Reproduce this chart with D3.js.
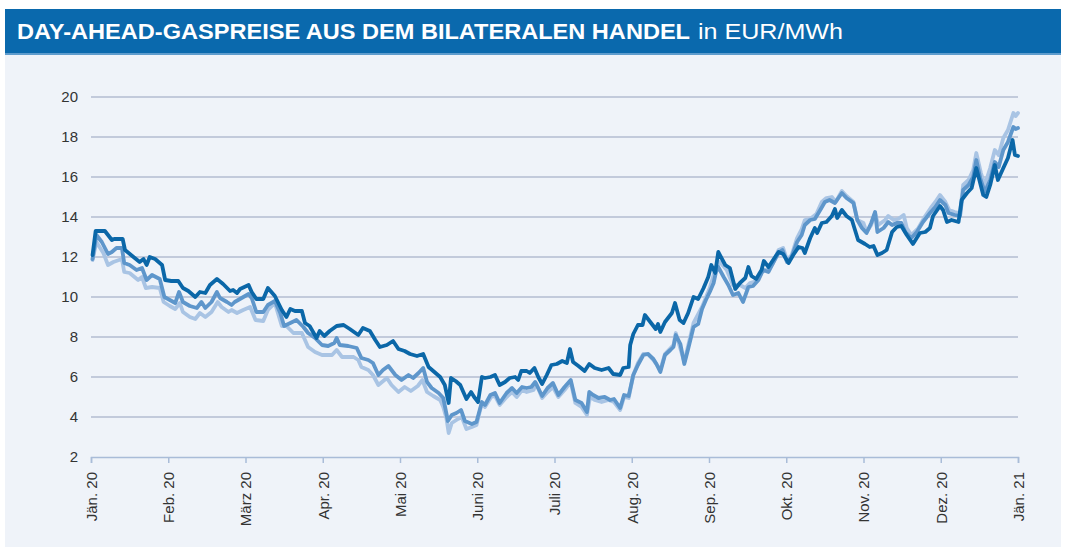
<!DOCTYPE html>
<html>
<head>
<meta charset="utf-8">
<script src="https://cdn.jsdelivr.net/npm/d3@7"></script>
<style>
  body { margin: 0; background: #fff; }
  svg { display: block; font-family: "Liberation Sans", Arial, sans-serif; }
</style>
</head>
<body>
<script>
// Monatsbeschriftungen (gleich breite Monate, 0 = Jän. 20 ... 12 = Jän. 21)
var monate = ["Jän. 20", "Feb. 20", "März 20", "Apr. 20", "Mai 20", "Juni 20", "Juli 20",
  "Aug. 20", "Sep. 20", "Okt. 20", "Nov. 20", "Dez. 20", "Jän. 21"];
var yTicks = [2, 4, 6, 8, 10, 12, 14, 16, 18, 20];

// [Zeit in Monaten seit 1.1.2020, Preis EUR/MWh]
var serieDunkel = [
  [0.02,12.1],[0.06,13.3],[0.18,13.3],[0.27,12.85],[0.30,12.9],[0.41,12.9],[0.44,12.35],[0.55,12.0],
  [0.63,11.75],[0.68,11.9],[0.72,11.6],[0.76,12.0],[0.83,11.9],[0.92,11.6],[0.96,10.85],[1.04,10.8],
  [1.13,10.8],[1.19,10.45],[1.26,10.3],[1.35,10.0],[1.41,10.25],[1.48,10.2],[1.54,10.6],[1.63,10.9],
  [1.71,10.65],[1.80,10.3],[1.84,10.35],[1.89,10.2],[1.93,10.4],[2.04,10.6],[2.08,10.25],[2.14,9.9],
  [2.23,9.9],[2.29,10.45],[2.38,10.05],[2.47,9.35],[2.53,9.0],[2.58,9.4],[2.64,9.3],[2.73,9.3],
  [2.77,8.7],[2.83,8.55],[2.92,7.95],[2.96,8.3],[3.02,8.05],[3.09,8.3],[3.18,8.55],[3.27,8.6],
  [3.35,8.4],[3.46,8.1],[3.52,8.45],[3.61,8.3],[3.68,7.85],[3.74,7.5],[3.83,7.6],[3.91,7.8],
  [3.98,7.4],[4.06,7.3],[4.13,7.15],[4.22,7.05],[4.30,7.15],[4.37,6.5],[4.43,6.3],[4.52,6.0],
  [4.58,5.6],[4.63,4.7],[4.66,5.95],[4.72,5.8],[4.78,5.6],[4.82,5.25],[4.86,4.9],[4.92,5.25],
  [4.96,5.0],[5.01,4.75],[5.06,6.0],[5.10,5.95],[5.17,6.0],[5.23,6.1],[5.29,5.6],[5.36,5.75],
  [5.42,5.95],[5.49,6.0],[5.53,5.85],[5.57,6.3],[5.64,6.3],[5.68,6.2],[5.74,6.45],[5.79,6.0],
  [5.84,5.65],[5.90,6.1],[5.96,6.6],[6.03,6.65],[6.10,6.8],[6.16,6.7],[6.20,7.4],[6.24,6.75],
  [6.31,6.55],[6.39,6.3],[6.45,6.65],[6.52,6.45],[6.61,6.35],[6.70,6.45],[6.76,6.15],[6.85,6.1],
  [6.89,6.45],[6.96,6.5],[6.98,7.6],[7.02,8.15],[7.08,8.6],[7.14,8.6],[7.17,9.1],[7.24,8.75],
  [7.31,8.4],[7.34,8.65],[7.37,8.25],[7.43,8.75],[7.52,9.2],[7.56,9.7],[7.62,8.85],[7.67,8.7],
  [7.73,9.2],[7.80,10.0],[7.86,9.9],[7.93,10.45],[7.99,11.0],[8.03,11.6],[8.08,11.2],[8.12,12.25],
  [8.21,11.6],[8.27,11.45],[8.34,10.4],[8.40,10.7],[8.47,10.95],[8.51,11.5],[8.55,11.05],[8.61,10.9],
  [8.68,11.35],[8.71,11.8],[8.77,11.5],[8.83,11.85],[8.90,12.25],[8.96,12.15],[9.03,11.7],[9.09,12.1],
  [9.16,12.5],[9.21,12.45],[9.24,12.2],[9.31,12.95],[9.37,13.45],[9.40,13.2],[9.46,13.7],[9.52,13.75],
  [9.59,14.05],[9.63,14.4],[9.66,13.95],[9.72,14.35],[9.78,14.05],[9.85,13.85],[9.89,13.35],[9.93,12.85],
  [10.02,12.65],[10.08,12.5],[10.13,12.55],[10.18,12.1],[10.24,12.2],[10.30,12.35],[10.37,13.25],[10.43,13.5],
  [10.49,13.55],[10.56,13.1],[10.64,12.65],[10.73,13.2],[10.80,13.25],[10.86,13.45],[10.90,14.05],[10.99,14.55],
  [11.03,14.35],[11.08,13.75],[11.14,13.85],[11.23,13.75],[11.27,14.85],[11.34,15.2],[11.40,15.45],[11.46,16.45],
  [11.51,15.7],[11.55,15.1],[11.59,15.0],[11.64,15.6],[11.70,16.6],[11.74,15.85],[11.81,16.45],[11.87,16.95],
  [11.93,17.85],[11.96,17.1],[12.00,17.05]
];

var serieMittel = [
  [0.02,11.9],[0.07,13.1],[0.14,12.75],[0.22,12.15],[0.27,12.25],[0.33,12.45],[0.40,12.45],[0.43,11.7],
  [0.50,11.6],[0.59,11.35],[0.66,11.45],[0.72,10.85],[0.79,11.1],[0.89,10.9],[0.95,10.0],[1.02,9.85],
  [1.09,9.7],[1.14,10.25],[1.19,9.75],[1.28,9.55],[1.37,9.45],[1.43,9.75],[1.48,9.45],[1.56,9.75],
  [1.63,10.25],[1.67,9.95],[1.76,9.75],[1.82,9.6],[1.86,9.75],[1.95,9.95],[2.04,10.15],[2.08,9.95],
  [2.14,9.25],[2.23,9.25],[2.29,9.6],[2.38,9.8],[2.45,9.2],[2.50,8.55],[2.58,8.7],[2.66,8.85],
  [2.75,8.5],[2.81,8.2],[2.90,7.95],[2.99,7.6],[3.07,7.55],[3.15,7.7],[3.18,7.95],[3.22,7.6],
  [3.33,7.55],[3.44,7.45],[3.50,6.95],[3.59,6.85],[3.65,6.7],[3.72,6.1],[3.78,6.35],[3.85,6.55],
  [3.94,6.1],[4.02,5.85],[4.11,6.1],[4.17,5.95],[4.24,6.2],[4.30,6.45],[4.35,5.75],[4.41,5.45],
  [4.50,5.2],[4.56,4.95],[4.62,3.8],[4.67,4.1],[4.73,4.2],[4.79,4.35],[4.84,3.8],[4.93,3.65],
  [4.99,3.75],[5.06,4.75],[5.10,4.6],[5.17,5.1],[5.23,5.2],[5.29,4.7],[5.38,5.2],[5.45,5.45],
  [5.51,5.2],[5.58,5.5],[5.64,5.45],[5.70,5.5],[5.75,5.75],[5.84,5.05],[5.91,5.45],[5.98,5.7],
  [6.05,5.1],[6.13,5.5],[6.21,5.85],[6.27,4.85],[6.35,4.7],[6.42,4.25],[6.45,5.25],[6.50,5.1],
  [6.57,4.95],[6.65,5.0],[6.72,4.85],[6.77,4.9],[6.85,4.45],[6.90,5.1],[6.96,5.05],[7.02,6.1],
  [7.08,6.6],[7.15,7.1],[7.21,7.15],[7.28,6.9],[7.32,6.65],[7.37,6.25],[7.43,7.1],[7.50,7.35],
  [7.54,7.5],[7.57,8.1],[7.63,7.65],[7.68,6.65],[7.73,7.4],[7.80,8.5],[7.86,8.65],[7.91,9.4],
  [7.96,9.85],[8.01,10.25],[8.06,10.7],[8.09,11.25],[8.12,11.5],[8.19,11.0],[8.25,10.6],[8.31,10.1],
  [8.38,10.2],[8.44,9.75],[8.51,10.5],[8.57,10.55],[8.64,10.85],[8.70,11.35],[8.77,11.25],[8.83,11.7],
  [8.90,12.2],[8.95,12.35],[9.01,11.75],[9.07,12.0],[9.14,12.75],[9.20,13.1],[9.24,13.6],[9.31,13.85],
  [9.37,13.9],[9.44,14.35],[9.50,14.75],[9.56,14.85],[9.63,14.7],[9.72,15.2],[9.78,14.95],[9.87,14.7],
  [9.92,13.85],[9.98,13.45],[10.04,13.2],[10.10,13.7],[10.15,14.25],[10.18,13.25],[10.26,13.45],[10.32,13.75],
  [10.37,13.6],[10.43,13.7],[10.49,13.7],[10.54,13.25],[10.62,12.95],[10.69,13.25],[10.77,13.75],[10.86,14.2],
  [10.93,14.5],[10.99,14.85],[11.06,14.6],[11.10,14.2],[11.18,14.1],[11.25,14.05],[11.29,15.35],[11.36,15.6],
  [11.42,16.0],[11.46,16.85],[11.51,15.95],[11.57,15.25],[11.64,15.85],[11.70,16.75],[11.75,16.5],[11.81,17.35],
  [11.87,17.75],[11.94,18.5],[11.97,18.4],[12.00,18.45]
];

var serieHell = [
  [0.02,11.85],[0.07,12.75],[0.16,12.2],[0.22,11.6],[0.29,11.75],[0.40,11.9],[0.43,11.25],[0.50,11.2],
  [0.61,10.85],[0.66,11.0],[0.71,10.45],[0.79,10.5],[0.89,10.45],[0.94,9.75],[1.02,9.55],[1.09,9.4],
  [1.15,9.7],[1.19,9.25],[1.28,9.0],[1.35,8.9],[1.41,9.2],[1.48,9.0],[1.56,9.25],[1.64,9.75],
  [1.69,9.5],[1.78,9.25],[1.82,9.35],[1.89,9.2],[1.97,9.35],[2.06,9.5],[2.13,8.85],[2.23,8.8],
  [2.29,9.35],[2.38,9.7],[2.47,8.55],[2.53,8.55],[2.62,8.2],[2.73,8.2],[2.81,7.5],[2.90,7.25],
  [2.99,7.1],[3.12,7.1],[3.18,7.35],[3.25,7.0],[3.40,7.0],[3.46,6.85],[3.50,6.5],[3.59,6.35],
  [3.65,6.1],[3.72,5.6],[3.83,5.95],[3.89,5.6],[3.98,5.25],[4.06,5.5],[4.14,5.3],[4.23,5.55],
  [4.29,5.85],[4.35,5.25],[4.43,5.05],[4.52,4.85],[4.56,4.5],[4.60,3.95],[4.63,3.2],[4.67,3.7],
  [4.75,3.9],[4.80,4.0],[4.86,3.4],[4.93,3.5],[4.99,3.6],[5.06,4.7],[5.10,4.5],[5.18,5.0],
  [5.23,5.05],[5.29,4.6],[5.38,5.0],[5.45,5.25],[5.51,5.0],[5.58,5.35],[5.64,5.25],[5.73,5.35],
  [5.76,5.7],[5.84,4.95],[5.91,5.25],[5.98,5.5],[6.05,5.0],[6.13,5.35],[6.21,5.75],[6.27,4.7],
  [6.35,4.5],[6.42,4.1],[6.46,5.0],[6.52,4.85],[6.61,4.75],[6.70,4.85],[6.77,4.75],[6.85,4.35],
  [6.90,5.0],[6.96,4.95],[7.02,6.1],[7.08,6.7],[7.15,7.15],[7.21,7.15],[7.28,6.85],[7.37,6.35],
  [7.43,7.15],[7.54,7.6],[7.57,8.2],[7.68,6.75],[7.80,8.7],[7.91,9.5],[8.01,10.45],[8.09,11.5],
  [8.14,11.75],[8.23,11.35],[8.31,10.6],[8.40,10.6],[8.47,10.45],[8.53,10.7],[8.62,10.8],[8.70,11.35],
  [8.77,11.35],[8.83,11.7],[8.90,12.35],[8.96,12.45],[9.01,11.85],[9.07,12.1],[9.14,12.95],[9.20,13.4],
  [9.24,13.85],[9.31,13.9],[9.39,14.15],[9.46,14.75],[9.52,14.95],[9.59,15.0],[9.64,14.75],[9.72,15.3],
  [9.78,15.05],[9.87,14.75],[9.92,13.85],[10.00,13.7],[10.04,13.25],[10.10,13.6],[10.15,14.2],[10.19,13.6],
  [10.28,13.85],[10.32,14.05],[10.39,13.85],[10.45,13.9],[10.52,14.1],[10.56,13.45],[10.62,13.1],[10.71,13.45],
  [10.80,14.05],[10.87,14.45],[10.93,14.75],[10.99,15.1],[11.06,14.75],[11.11,14.35],[11.18,14.25],[11.25,14.2],
  [11.29,15.6],[11.36,15.85],[11.42,16.35],[11.46,17.2],[11.52,16.2],[11.57,15.6],[11.64,16.45],[11.70,17.35],
  [11.75,17.1],[11.81,17.95],[11.87,18.35],[11.94,19.2],[11.97,19.05],[12.00,19.2]
];

var width = 1066;
var height = 547;
var svg = d3.select("body").append("svg")
  .attr("width", width)
  .attr("height", height);

// Hintergrund
svg.append("rect").attr("x", 5).attr("y", 53).attr("width", 1056).attr("height", 494).attr("fill", "#eff3f9");
svg.append("rect").attr("x", 5).attr("y", 9).attr("width", 1056).attr("height", 44).attr("fill", "#0a69ad");
svg.append("rect").attr("x", 5).attr("y", 53).attr("width", 1056).attr("height", 2).attr("fill", "#5e9ccd");

// Titel
var titel = svg.append("text")
  .attr("x", 17).attr("y", 39)
  .attr("fill", "#fff")
  .attr("font-size", 22);
titel.append("tspan")
  .attr("font-weight", "bold")
  .attr("textLength", 673).attr("lengthAdjust", "spacingAndGlyphs")
  .text("DAY-AHEAD-GASPREISE AUS DEM BILATERALEN HANDEL");
titel.append("tspan")
  .attr("x", 698)
  .attr("textLength", 145).attr("lengthAdjust", "spacingAndGlyphs")
  .text("in EUR/MWh");

var x = d3.scaleLinear().domain([0, 12]).range([91, 1018]);
var y = d3.scaleLinear().domain([2, 20]).range([457, 97]);

// Gitterlinien
svg.append("g").selectAll("line")
  .data(yTicks.filter(d => d > 2))
  .join("line")
  .attr("x1", x(0)).attr("x2", x(12))
  .attr("y1", d => y(d)).attr("y2", d => y(d))
  .attr("stroke", "#b3bdd0")
  .attr("stroke-width", 1.3);

// y-Beschriftung
svg.append("g").selectAll("text")
  .data(yTicks)
  .join("text")
  .attr("x", 78).attr("y", d => y(d))
  .attr("dy", "0.36em")
  .attr("text-anchor", "end")
  .attr("font-size", 15)
  .attr("fill", "#333")
  .text(d => d);

// x-Achse
var xAchse = svg.append("g")
  .attr("transform", "translate(0," + y(2) + ")")
  .call(d3.axisBottom(x)
    .tickValues(d3.range(13))
    .tickSize(6)
    .tickFormat(i => monate[i]));
xAchse.select(".domain").attr("stroke", "#a9bcd8").attr("stroke-width", 1.5);
xAchse.selectAll(".tick line").attr("stroke", "#a9bcd8").attr("stroke-width", 1.5);
xAchse.selectAll(".tick text")
  .attr("font-family", "Liberation Sans, Arial, sans-serif")
  .attr("font-size", 15)
  .attr("fill", "#333")
  .attr("transform", "rotate(-90)")
  .attr("text-anchor", "end")
  .attr("x", -15)
  .attr("y", 0)
  .attr("dy", "0.36em");

// Linien
var linie = d3.line()
  .x(d => x(d[0]))
  .y(d => y(d[1]));

var serien = [
  { daten: serieHell, farbe: "#a9c4e4" },
  { daten: serieMittel, farbe: "#5e96cb" },
  { daten: serieDunkel, farbe: "#0b67a8" }
];

svg.append("g").selectAll("path")
  .data(serien)
  .join("path")
  .attr("d", d => linie(d.daten))
  .attr("fill", "none")
  .attr("stroke", d => d.farbe)
  .attr("stroke-width", 3.8)
  .attr("stroke-linejoin", "round")
  .attr("stroke-linecap", "round");
</script>
</body>
</html>
